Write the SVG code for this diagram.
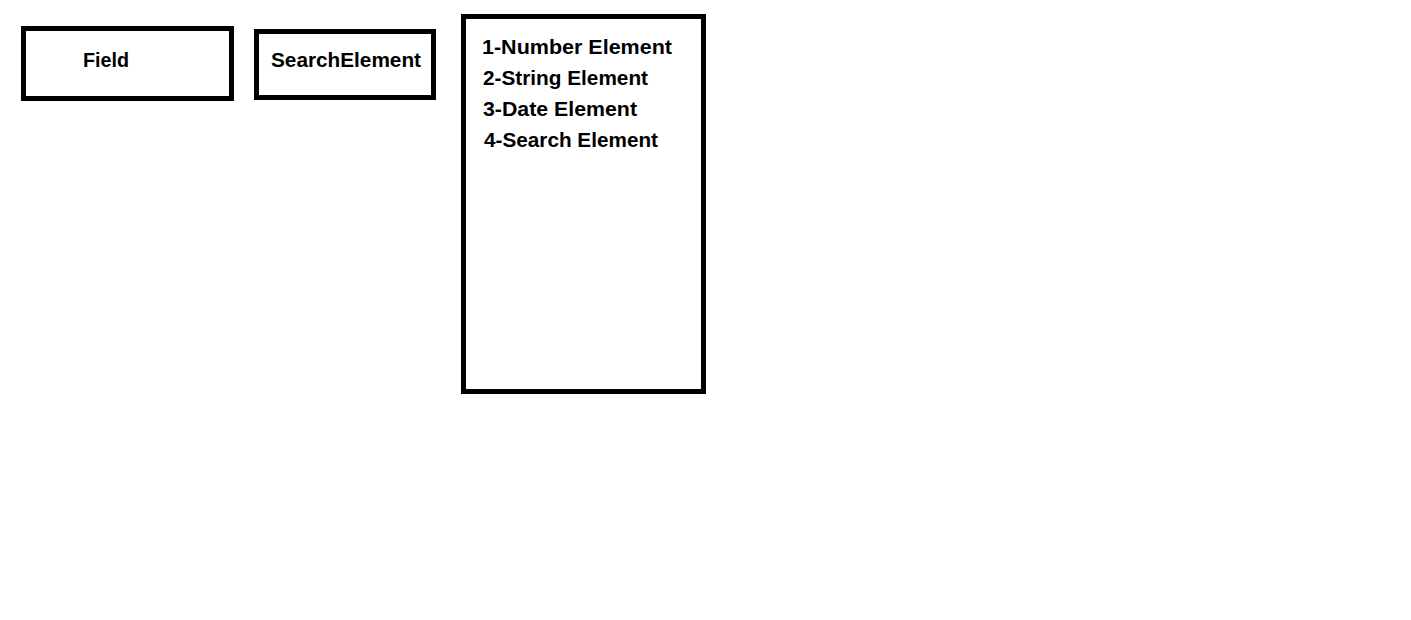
<svg xmlns="http://www.w3.org/2000/svg" width="1411" height="620" viewBox="0 0 1411 620">
<style>
.box{fill:#fff;stroke:#000;stroke-width:5}
.t{font-family:"Liberation Sans",Arial,sans-serif;font-weight:bold;font-size:20px;fill:#000}
</style>
<rect width="1411" height="620" fill="#fff"/>
<g id="field">
<rect class="box" x="23.5" y="28.5" width="208" height="70"/>
<text class="t" x="83" y="67" textLength="46" lengthAdjust="spacingAndGlyphs">Field</text>
</g>
<g id="searchElement">
<rect class="box" x="256.5" y="31.5" width="177" height="66"/>
<text class="t" x="271" y="67" textLength="150" lengthAdjust="spacingAndGlyphs">SearchElement</text>
</g>
<g id="elementList">
<rect class="box" x="463.5" y="16.5" width="240" height="375"/>
<text class="t" x="482" y="54" textLength="190" lengthAdjust="spacingAndGlyphs">1-Number Element</text>
<text class="t" x="483" y="85" textLength="165" lengthAdjust="spacingAndGlyphs">2-String Element</text>
<text class="t" x="483" y="116" textLength="154" lengthAdjust="spacingAndGlyphs">3-Date Element</text>
<text class="t" x="484" y="146.5" textLength="174" lengthAdjust="spacingAndGlyphs">4-Search Element</text>
</g>
<g id="connectors"/>
</svg>
